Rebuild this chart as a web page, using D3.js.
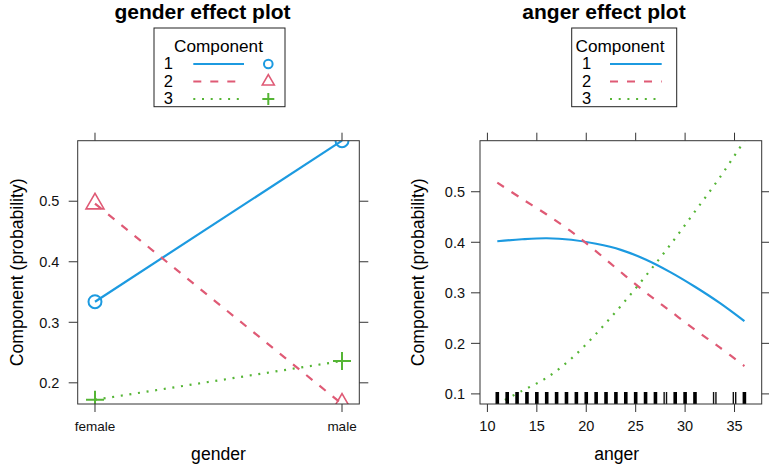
<!DOCTYPE html>
<html>
<head>
<meta charset="utf-8">
<script src="https://cdn.jsdelivr.net/npm/d3@7"></script>
<style>
  body { margin: 0; background: #fff; }
  svg { display: block; font-family: "Liberation Sans", Arial, Helvetica, sans-serif; }
</style>
</head>
<body>
<svg id="chart" width="769" height="465"></svg>
<script>
// data
var genderLevels = ["female", "male"];
var gender1 = [0.334, 0.600];
var gender2 = [0.496, 0.165];
var gender3 = [0.172, 0.236];

var angerX = [11, 13.5, 16, 18.5, 21, 23.5, 26, 28.5, 31, 33.5, 36];
var anger1 = [0.402, 0.406, 0.408, 0.405, 0.397, 0.385, 0.366, 0.341, 0.312, 0.280, 0.244];
var anger2 = [0.518, 0.486, 0.455, 0.421, 0.382, 0.341, 0.301, 0.264, 0.227, 0.192, 0.155];
var anger3 = [0.080, 0.106, 0.132, 0.170, 0.219, 0.274, 0.333, 0.395, 0.461, 0.528, 0.601];

var angerRug = [11, 12, 13, 14, 15, 16, 17, 18, 19, 20, 21, 22, 23, 24, 25, 26, 27, 29, 30, 31, 36];
var angerRugSparse = [28, 33, 35];

var genderYTicks = [0.2, 0.3, 0.4, 0.5];
var angerYTicks = [0.1, 0.2, 0.3, 0.4, 0.5];
var angerXTicks = [10, 15, 20, 25, 30, 35];

var components = ["1", "2", "3"];
var colors = ["#1C9AE0", "#DF5A75", "#55B535"];
var dashes = [null, "8,9", "2,6.7"];

var svg = d3.select("#chart");
var top0 = 140.7, bot0 = 404;
var fmt = d3.format(".1f");

function frame(g, x0, x1) {
  g.append("rect").attr("x", x0).attr("y", top0)
    .attr("width", x1 - x0).attr("height", bot0 - top0)
    .attr("fill", "none").attr("stroke", "#333").attr("stroke-width", 1);
}

function clip(id, x0, x1) {
  svg.append("clipPath").attr("id", id).append("rect")
    .attr("x", x0).attr("y", top0).attr("width", x1 - x0).attr("height", bot0 - top0);
}

function yAxisBoth(g, y, ticks, x0, x1, labOff) {
  ticks.forEach(function(t) {
    g.append("line").attr("x1", x0 - 9).attr("x2", x0).attr("y1", y(t)).attr("y2", y(t)).attr("stroke", "#333");
    g.append("line").attr("x1", x1).attr("x2", x1 + 9).attr("y1", y(t)).attr("y2", y(t)).attr("stroke", "#333");
    g.append("text").attr("x", x0 - labOff).attr("y", y(t)).attr("dy", "0.36em")
      .attr("text-anchor", "end").attr("font-size", 14.5).attr("fill", "#111").text(fmt(t));
  });
}

function xTicksBoth(g, xs, fn, labels, size) {
  xs.forEach(function(v, i) {
    var px = fn(v);
    g.append("line").attr("x1", px).attr("x2", px).attr("y1", top0 - 8).attr("y2", top0).attr("stroke", "#333");
    g.append("line").attr("x1", px).attr("x2", px).attr("y1", bot0).attr("y2", bot0 + 8).attr("stroke", "#333");
    g.append("text").attr("x", px).attr("y", 431).attr("text-anchor", "middle")
      .attr("font-size", size).attr("fill", "#111").text(labels[i]);
  });
}

function symbol(g, kind, cx, cy, s, col) {
  if (kind === 0) {
    g.append("circle").attr("cx", cx).attr("cy", cy).attr("r", s * 0.36)
      .attr("fill", "none").attr("stroke", col).attr("stroke-width", 2);
  } else if (kind === 1) {
    var h = s * 0.866;
    g.append("path").attr("d", "M" + (cx - s / 2) + "," + (cy + h / 3) + "L" + (cx + s / 2) + "," + (cy + h / 3) +
      "L" + cx + "," + (cy - 2 * h / 3) + "Z")
      .attr("fill", "none").attr("stroke", col).attr("stroke-width", 1.6);
  } else {
    g.append("path").attr("d", "M" + (cx - s / 2) + "," + cy + "H" + (cx + s / 2) + "M" + cx + "," + (cy - s / 2) + "V" + (cy + s / 2))
      .attr("fill", "none").attr("stroke", col).attr("stroke-width", 2);
  }
}

function legend(g, bx0, bx1, cx, numX, lx0, lx1, symX) {
  g.append("rect").attr("x", bx0).attr("y", 28).attr("width", bx1 - bx0).attr("height", 78.7)
    .attr("fill", "#fff").attr("stroke", "#222").attr("stroke-width", 1);
  g.append("text").attr("x", cx).attr("y", 51.7).attr("text-anchor", "middle")
    .attr("font-size", 17.2).text("Component");
  components.forEach(function(c, i) {
    var base = 69.3 + i * 17.5;
    g.append("text").attr("x", numX).attr("y", base).attr("text-anchor", "middle")
      .attr("font-size", 16.5).text(c);
    g.append("line").attr("x1", lx0).attr("x2", lx1).attr("y1", base - 5.3).attr("y2", base - 5.3)
      .attr("stroke", colors[i]).attr("stroke-width", 2.2).attr("stroke-dasharray", dashes[i]);
    if (symX != null) symbol(g, i, symX, base - 5.3, 12, colors[i]);
  });
}

// ---------- gender panel ----------
var gx0 = 77.7, gx1 = 359.3;
var gx = d3.scalePoint().domain(genderLevels).range([gx0, gx1]).padding(0.07);
var gy = d3.scaleLinear().domain(d3.extent(gender1.concat(gender2, gender3))).range([bot0, top0]);
var gp = svg.append("g");
clip("clipG", gx0, gx1);

var gMarks = gp.append("g").attr("clip-path", "url(#clipG)");
[gender1, gender2, gender3].forEach(function(ser, i) {
  var line = d3.line().x(function(d, j) { return gx(genderLevels[j]); }).y(function(d) { return gy(d); });
  gMarks.append("path").attr("d", line(ser)).attr("fill", "none")
    .attr("stroke", colors[i]).attr("stroke-width", 2.2).attr("stroke-dasharray", dashes[i]);
  ser.forEach(function(v, j) { symbol(gMarks, i, gx(genderLevels[j]), gy(v), 18, colors[i]); });
});
frame(gp, gx0, gx1);
yAxisBoth(gp, gy, genderYTicks, gx0, gx1, 18.4);
xTicksBoth(gp, genderLevels, gx, genderLevels, 13.5);

gp.append("text").attr("x", 202.5).attr("y", 19).attr("text-anchor", "middle")
  .attr("font-size", 21).attr("font-weight", "bold").text("gender effect plot");
gp.append("text").attr("x", (gx0 + gx1) / 2).attr("y", 460).attr("text-anchor", "middle")
  .attr("font-size", 17.6).text("gender");
gp.append("text").attr("transform", "translate(23," + (top0 + bot0) / 2 + ") rotate(-90)")
  .attr("text-anchor", "middle").attr("font-size", 17.6).text("Component (probability)");
legend(gp, 154, 285, 218.5, 168.3, 193.3, 244, 268.3);

// ---------- anger panel ----------
var ax0 = 480, ax1 = 761.7;
var ext = d3.extent(angerX), pad = (ext[1] - ext[0]) * 0.07;
var ax = d3.scaleLinear().domain([ext[0] - pad, ext[1] + pad]).range([ax0, ax1]);
var ay = d3.scaleLinear().domain(d3.extent(anger1.concat(anger2, anger3))).range([bot0, top0]);
var ap = svg.append("g");
clip("clipA", ax0, ax1);

var aMarks = ap.append("g").attr("clip-path", "url(#clipA)");
[anger1, anger2, anger3].forEach(function(ser, i) {
  var line = d3.line().curve(d3.curveCatmullRom)
    .x(function(d, j) { return ax(angerX[j]); }).y(function(d) { return ay(d); });
  aMarks.append("path").attr("d", line(ser)).attr("fill", "none")
    .attr("stroke", colors[i]).attr("stroke-width", 2.2).attr("stroke-dasharray", dashes[i]);
});
// rug
aMarks.selectAll(".rug").data(angerRug).enter().append("line")
  .attr("x1", function(d) { return ax(d); }).attr("x2", function(d) { return ax(d); })
  .attr("y1", bot0 - 12).attr("y2", bot0).attr("stroke", "#000").attr("stroke-width", 3.6);
angerRugSparse.forEach(function(d) {
  [-0.12, 0.12].forEach(function(o) {
    aMarks.append("line").attr("x1", ax(d + o)).attr("x2", ax(d + o))
      .attr("y1", bot0 - 12).attr("y2", bot0).attr("stroke", "#111").attr("stroke-width", 1.4);
  });
});
frame(ap, ax0, ax1);
yAxisBoth(ap, ay, angerYTicks, ax0, ax1, 15);
xTicksBoth(ap, angerXTicks, ax, angerXTicks.map(String), 14.5);

ap.append("text").attr("x", 604).attr("y", 19).attr("text-anchor", "middle")
  .attr("font-size", 21).attr("font-weight", "bold").text("anger effect plot");
ap.append("text").attr("x", 616.7).attr("y", 460).attr("text-anchor", "middle")
  .attr("font-size", 17.6).text("anger");
ap.append("text").attr("transform", "translate(424," + (top0 + bot0) / 2 + ") rotate(-90)")
  .attr("text-anchor", "middle").attr("font-size", 17.6).text("Component (probability)");
legend(ap, 571.7, 676.7, 620, 586.7, 610, 661.7, null);
</script>
</body>
</html>
